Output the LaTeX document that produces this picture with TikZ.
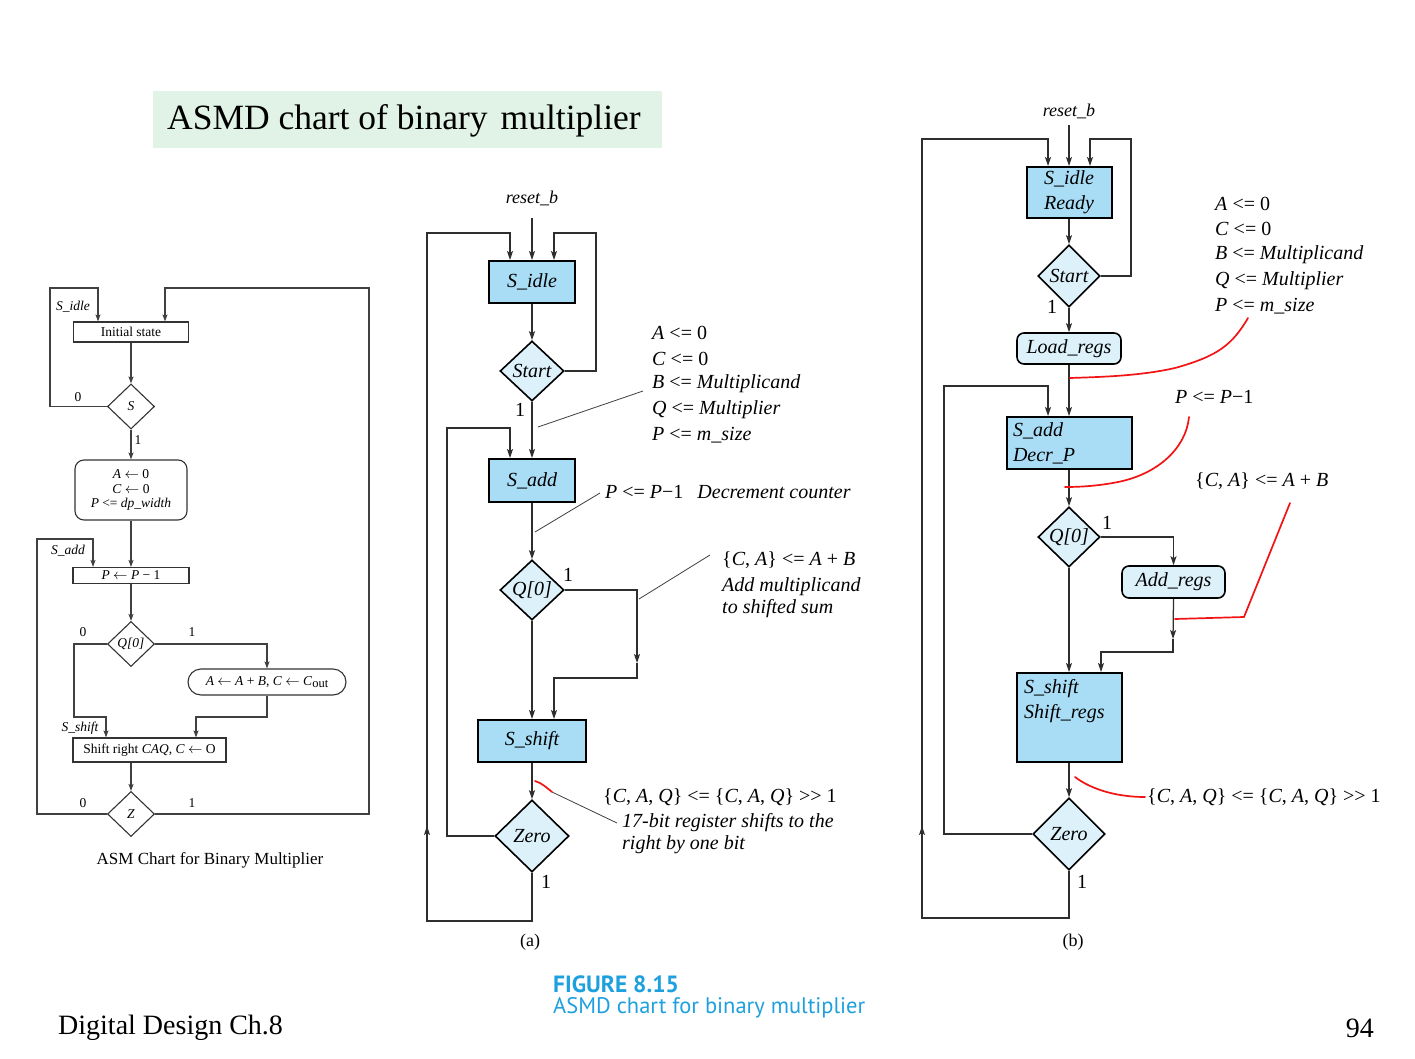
\documentclass[tikz,border=0pt]{standalone}
\usepackage{fontspec}
\setmainfont{Liberation Serif}
\newfontfamily\capfont{PT Sans}
\usetikzlibrary{arrows.meta,shapes.geometric,calc}

\definecolor{boxblue}{HTML}{A9DDF6}
\definecolor{decblue}{HTML}{DDF1FB}
\definecolor{titlegreen}{HTML}{E1F3E6}
\definecolor{figcyan}{HTML}{1EA0DE}
\definecolor{markred}{HTML}{F21414}

\newcommand\chartfont{\fontsize{20}{25}\selectfont}
\newcommand\asmfont{\fontsize{13.5}{14.5}\selectfont}
\newcommand\getsarrow{\ensuremath{\leftarrow}}
\newcommand\shr{>\kern0pt>}

\begin{document}
\begin{tikzpicture}[x=1pt,y=-1pt,
  conn/.style={line width=1.25pt, draw=black!82},
  arr/.style={conn, -{Stealth[length=9pt,width=6pt,inset=2pt]}},
  lline/.style={line width=1.1pt, draw=black!75},
  larr/.style={lline, -{Stealth[length=7pt,width=5pt,inset=1.5pt]}},
  statebox/.style={draw, line width=2pt, fill=boxblue, inner sep=0pt, font=\chartfont\itshape},
  decbox/.style={diamond, draw, line width=1.6pt, fill=decblue, inner sep=0pt, font=\chartfont\itshape},
  condbox/.style={draw, line width=1.6pt, fill=decblue, rounded corners=7pt, inner sep=0pt, font=\chartfont\itshape},
  asmbox/.style={draw=black!80, line width=1.1pt, fill=white, inner sep=0pt, font=\asmfont},
  asmdec/.style={diamond, draw=black!80, line width=1.1pt, fill=white, inner sep=0pt,
    minimum width=47pt, minimum height=45pt, font=\asmfont\itshape},
  note/.style={anchor=west, inner sep=0pt, font=\chartfont},
  asmlab/.style={inner sep=0pt, font=\asmfont},
  leader/.style={line width=0.8pt, draw=black!75},
  redmark/.style={draw=markred, line width=1.7pt, line cap=round},
]
\path[use as bounding box, fill=white] (0,0) rectangle (1415,1059);

% ---------------- title ----------------
\node[fill=titlegreen, minimum width=509pt, minimum height=57pt, inner sep=0pt] (titlebox) at (407.5,119.5) {};
\node[anchor=west, inner sep=0pt, font=\fontsize{35.5}{40}\selectfont] (title) at (167,121) {ASMD chart of binary\hspace{0.12em} multiplier};

% ---------------- ASM chart ----------------
\node[asmbox, minimum width=115pt, minimum height=20pt] (initst) at (131,332) {Initial state};
\node[asmdec] (sdec) at (131,406.5) {S};
\node[asmbox, rounded corners=9pt, minimum width=112pt, minimum height=60pt, align=center] (ldefs) at (131,490)
  {\textit{A} \getsarrow{} 0\\\textit{C} \getsarrow{} 0\\\textit{P} <= \textit{dp\_width}};
\node[asmbox, minimum width=116pt, minimum height=16pt] (pbox) at (131,575.5) {\textit{P} \getsarrow{} \textit{P} − 1};
\node[asmdec] (qdec) at (131,644) {Q[0]};
\node[asmbox, rounded corners=13pt, minimum width=158pt, minimum height=26pt] (pill) at (267,682)
  {\textit{A} \getsarrow{} \textit{A} + \textit{B}, \textit{C} \getsarrow{} \textit{C}\raisebox{-0.35ex}{\fontsize{12.5}{12.5}\selectfont out}};
\node[asmbox, minimum width=153pt, minimum height=24pt] (shbox) at (149.5,750) {Shift right \textit{CAQ}, \textit{C} \getsarrow{} O};
\node[asmdec] (zdec) at (131,814) {Z};

\coordinate (lA) at (50,288);
\coordinate (lB) at (369,288);
\coordinate (lC) at (37,539);
\coordinate (lD) at (74,717);
\coordinate (lE) at (196,717);

\draw[larr] (initst) -- (sdec);
\draw[larr] (sdec) -- (ldefs);
\draw[larr] (ldefs) -- (pbox);
\draw[larr] (pbox) -- (qdec);
\draw[larr] (shbox.south -| zdec) -- (zdec.north);
\draw[larr] (sdec.west) -| (lA) -| ([xshift=-33pt]initst.north);
\draw[larr] (zdec.east) -| (lB) -| ([xshift=34pt]initst.north);
\draw[larr] (zdec.west) -| (lC) -| ([xshift=-38pt]pbox.north);
\draw[larr] (qdec.west) -| (lD) -| ([xshift=-43.5pt]shbox.north);
\draw[larr] (qdec.east) -| (pill.north);
\draw[larr] (pill.south) |- (lE) -- (lE |- shbox.north);

\node[asmlab, font=\asmfont\itshape] (lidle) at (73,307) {S\_idle};
\node[asmlab, font=\asmfont\itshape] (ladd) at (68,551) {S\_add};
\node[asmlab, font=\asmfont\itshape] (lshift) at (80,728) {S\_shift};
\node[asmlab] (ls0) at (78,397) {0};
\node[asmlab] (ls1) at (138,440) {1};
\node[asmlab] (lq0) at (83,632) {0};
\node[asmlab] (lq1) at (192,632) {1};
\node[asmlab] (lz0) at (83,803) {0};
\node[asmlab] (lz1) at (192,803) {1};
\node[inner sep=0pt, font=\fontsize{17}{20}\selectfont] (asmcap) at (210,860) {ASM Chart for Binary Multiplier};

% ---------------- ASMD chart (a) ----------------
\node[font=\fontsize{18}{20}\selectfont\itshape, inner sep=0pt] (resetA) at (532,198) {reset\_b};
\coordinate (rA) at (532,218);
\node[statebox, minimum width=86pt, minimum height=42pt] (sidleA) at (532,282) {S\_idle};
\node[decbox, minimum width=64pt, minimum height=60pt] (startA) at (532,371) {Start};
\node[statebox, minimum width=86pt, minimum height=43pt] (saddA) at (532,480.5) {S\_add};
\node[decbox, minimum width=64pt, minimum height=60pt] (q0A) at (532,590) {Q[0]};
\node[statebox, minimum width=108pt, minimum height=42pt] (sshiftA) at (532,741) {S\_shift};
\node[decbox, minimum width=74pt, minimum height=72pt] (zeroA) at (532,836) {Zero};

\coordinate (aBL) at (427,921);
\coordinate (aTL) at (427,233);
\coordinate (aUp) at (427,826);
\coordinate (aTR) at (596,233);
\coordinate (aIL) at (447,428);
\coordinate (aQ1) at (637,663);
\coordinate (aQ2) at (637,678);

\draw[arr] (rA) -- (sidleA.north);
\draw[arr] (sidleA) -- (startA);
\draw[arr] (startA) -- (saddA);
\draw[arr] (saddA) -- (q0A);
\draw[arr] (q0A) -- (sshiftA);
\draw[arr] (sshiftA) -- (zeroA);
\draw[arr] (zeroA.south) |- (aBL) -- (aTL) -| ([xshift=-22pt]sidleA.north);
\draw[arr] (aBL) -- (aUp);
\draw[arr] (startA.east) -| (aTR) -| ([xshift=22pt]sidleA.north);
\draw[arr] (zeroA.west) -| (aIL) -| ([xshift=-22pt]saddA.north);
\draw[arr] (q0A.east) -| (aQ1);
\draw[arr] (aQ1) -- (aQ2) -| ([xshift=22pt]sshiftA.north);

\node[note] (a1s) at (515,410) {1};
\node[note] (a1q) at (563,575) {1};
\node[note] (a1z) at (541,882) {1};

\node[note] (aN1) at (652,333) {\textit{A} <= 0};
\node[note] (aN2) at (652,359) {\textit{C} <= 0};
\node[note] (aN3) at (652,384) {\textit{B} <= \textit{Multiplicand}};
\node[note] (aN4) at (652,410) {\textit{Q} <= \textit{Multiplier}};
\node[note] (aN5) at (652,435) {\textit{P} <= \textit{m\_size}};
\coordinate (aL1a) at (538,427);
\coordinate (aL1b) at (643,391);
\draw[leader] (aL1a) -- (aL1b);

\node[note] (aDec) at (605,492) {\textit{P} <= \textit{P}−1\hspace{0.7em}\textit{Decrement counter}};
\coordinate (aL2a) at (535,532);
\coordinate (aL2b) at (600,493);
\draw[leader] (aL2a) -- (aL2b);

\node[note] (aAdd1) at (722,560) {\{\textit{C}, \textit{A}\} <= \textit{A} + \textit{B}};
\node[note, font=\chartfont\itshape] (aAdd2) at (722,587) {Add multiplicand};
\node[note, font=\chartfont\itshape] (aAdd3) at (722,609) {to shifted sum};
\coordinate (aL3a) at (639,599);
\coordinate (aL3b) at (710,555);
\draw[leader] (aL3a) -- (aL3b);

\node[note] (aSh1) at (603,797) {\{\textit{C}, \textit{A}, \textit{Q}\} <= \{\textit{C}, \textit{A}, \textit{Q}\} \shr{} 1};
\node[note, font=\chartfont\itshape] (aSh2) at (622,823) {17-bit register shifts to the};
\node[note, font=\chartfont\itshape] (aSh3) at (622,845) {right by one bit};
\coordinate (aL4a) at (552,792);
\coordinate (aL4b) at (617,823);
\coordinate (aR0) at (535,781);
\draw[leader] (aL4a) -- (aL4b);
\draw[redmark] (aR0) .. controls (542,783) and (547,788) .. (aL4a);

\node[inner sep=0pt, font=\fontsize{18}{20}\selectfont] (capA) at (530,942) {(a)};

% ---------------- ASMD chart (b) ----------------
\node[font=\fontsize{18}{20}\selectfont\itshape, inner sep=0pt] (resetB) at (1069,111) {reset\_b};
\coordinate (rB) at (1069,125);
\node[statebox, minimum width=85pt, minimum height=51pt, align=center] (sidleB) at (1069,192.5) {S\_idle\\Ready};
\node[decbox, minimum width=62pt, minimum height=62pt] (startB) at (1069,276) {Start};
\node[condbox, minimum width=104pt, minimum height=31pt] (loadB) at (1069,348.5) {Load\_regs};
\node[statebox, minimum width=125pt, minimum height=52pt, text width=113pt, align=left] (saddB) at (1069.5,443) {S\_add\\Decr\_P};
\node[decbox, minimum width=62pt, minimum height=60pt] (q0B) at (1069,537) {Q[0]};
\node[condbox, minimum width=103pt, minimum height=32pt] (addB) at (1173.5,582) {Add\_regs};
\node[statebox, minimum width=105pt, minimum height=89pt] (sshiftB) at (1069.5,717.5) {};
\node[anchor=north west, inner sep=0pt, align=left, font=\chartfont\itshape] (sshiftBt) at ($(sshiftB.north west)+(8,7)$) {S\_shift\\Shift\_regs};
\node[decbox, minimum width=72pt, minimum height=72pt] (zeroB) at (1069,834) {Zero};

\coordinate (bBL) at (922,918);
\coordinate (bTL) at (922,139);
\coordinate (bUp) at (922,826);
\coordinate (bTR) at (1131,139);
\coordinate (bIL) at (944,386);
\coordinate (bQ1) at (1173,639);
\coordinate (bQ2) at (1173,652);

\draw[arr] (rB) -- (sidleB.north);
\draw[arr] (sidleB) -- (startB);
\draw[arr] (startB) -- (loadB);
\draw[arr] (loadB.south) -- (loadB.south |- saddB.north);
\draw[arr] (saddB.south -| q0B) -- (q0B.north);
\draw[arr] (q0B.south) -- (q0B.south |- sshiftB.north);
\draw[arr] (sshiftB.south -| zeroB) -- (zeroB.north);
\draw[arr] (zeroB.south) |- (bBL) -- (bTL) -| ([xshift=-21pt]sidleB.north);
\draw[arr] (bBL) -- (bUp);
\draw[arr] (startB.east) -| (bTR) -| ([xshift=21pt]sidleB.north);
\draw[arr] (zeroB.west) -| (bIL) -| ([xshift=-21.5pt]saddB.north);
\draw[arr] (q0B.east) -| (addB.north);
\draw[arr] (addB.south) -- (bQ1);
\draw[arr] (bQ1) -- (bQ2) -| ([xshift=31.5pt]sshiftB.north);

\node[note] (b1s) at (1047,307) {1};
\node[note] (b1q) at (1102,523) {1};
\node[note] (b1z) at (1077,882) {1};

\node[note] (bN1) at (1215,204) {\textit{A} <= 0};
\node[note] (bN2) at (1215,229) {\textit{C} <= 0};
\node[note] (bN3) at (1215,255) {\textit{B} <= \textit{Multiplicand}};
\node[note] (bN4) at (1215,281) {\textit{Q} <= \textit{Multiplier}};
\node[note] (bN5) at (1215,306) {\textit{P} <= \textit{m\_size}};
\node[note] (bDec) at (1175,397) {\textit{P} <= \textit{P}−1};
\node[note] (bAdd) at (1195,481) {\{\textit{C}, \textit{A}\} <= \textit{A} + \textit{B}};
\node[note] (bSh) at (1147,797) {\{\textit{C}, \textit{A}, \textit{Q}\} <= \{\textit{C}, \textit{A}, \textit{Q}\} \shr{} 1};

\coordinate (bR1a) at (1248,318);
\coordinate (bR1b) at (1070,378);
\draw[redmark] (bR1a) .. controls (1232,345) and (1218,356) .. (1175,368) .. controls (1140,376) and (1100,377) .. (bR1b);
\coordinate (bR2a) at (1189,417);
\coordinate (bR2b) at (1065,487);
\draw[redmark] (bR2a) .. controls (1186,448) and (1158,474) .. (1118,482) .. controls (1098,486) and (1080,487) .. (bR2b);
\coordinate (bR3a) at (1290,503);
\coordinate (bR3m) at (1244,617);
\coordinate (bR3b) at (1175,619);
\draw[redmark, line join=round] (bR3a) -- (bR3m) -- (bR3b);
\coordinate (bR4a) at (1075,777);
\coordinate (bR4b) at (1145,797);
\draw[redmark] (bR4a) .. controls (1092,790) and (1118,797) .. (bR4b);

\node[inner sep=0pt, font=\fontsize{18}{20}\selectfont] (capB) at (1073,942) {(b)};

% ---------------- footer ----------------
\node[anchor=west, inner sep=0pt, text=figcyan, font=\capfont\bfseries\fontsize{23.5}{24}\selectfont] (fignum) at (553,984) {FIGURE 8.15};
\node[anchor=west, inner sep=0pt, text=figcyan, font=\capfont\fontsize{22.5}{24}\selectfont] (figcap) at (553,1008) {ASMD chart for binary multiplier};
\node[anchor=west, inner sep=0pt, font=\fontsize{28}{30}\selectfont] (course) at (58,1028) {Digital Design Ch.8};
\node[anchor=east, inner sep=0pt, font=\fontsize{28}{30}\selectfont] (pagenum) at (1374,1028) {94};
\end{tikzpicture}
\end{document}
